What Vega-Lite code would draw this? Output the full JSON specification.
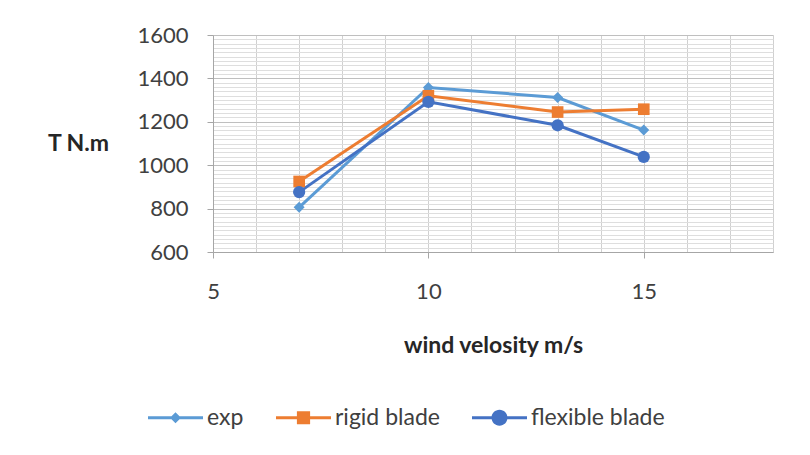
{
  "$schema": "https://vega.github.io/schema/vega-lite/v6.json",
  "width": 560,
  "height": 217,
  "autosize": {"type": "none"},
  "padding": {"left": 213, "top": 35, "right": 37, "bottom": 203},
  "background": "white",
  "config": {"view": {"stroke": null}, "font": "Lato"},
  "data": {
    "values": [
      {"s": "exp", "v": 7, "T": 806},
      {"s": "exp", "v": 10, "T": 1358},
      {"s": "exp", "v": 13, "T": 1312},
      {"s": "exp", "v": 15, "T": 1162},
      {"s": "rigid blade", "v": 7, "T": 925},
      {"s": "rigid blade", "v": 10, "T": 1320},
      {"s": "rigid blade", "v": 13, "T": 1245},
      {"s": "rigid blade", "v": 15, "T": 1258},
      {"s": "flexible blade", "v": 7, "T": 876},
      {"s": "flexible blade", "v": 10, "T": 1292},
      {"s": "flexible blade", "v": 13, "T": 1184},
      {"s": "flexible blade", "v": 15, "T": 1038}
    ]
  },
  "encoding": {
    "x": {
      "field": "v",
      "type": "quantitative",
      "scale": {"domain": [5, 18], "nice": false, "zero": false},
      "axis": {
        "values": [5, 6, 7, 8, 9, 10, 11, 12, 13, 14, 15, 16, 17, 18],
        "labelExpr": "datum.value % 5 === 0 ? datum.label : ''",
        "labelFont": "Lato",
        "labelFontSize": 22,
        "labelColor": "#404040",
        "labelPadding": 23,
        "labelOverlap": false,
        "labelFlush": false,
        "tickSize": 6,
        "tickColor": "#a6a6a6",
        "tickOpacity": {"condition": {"test": "datum.value % 5 === 0", "value": 1}, "value": 0},
        "domainColor": "#a6a6a6",
        "gridColor": "#d0d0d0",
        "title": "wind velosity m/s",
        "titleFont": "Lato",
        "titleFontSize": 23,
        "titleFontWeight": "bold",
        "titleColor": "#262626",
        "titleY": 93,
        "titleBaseline": "middle"
      }
    },
    "y": {
      "field": "T",
      "type": "quantitative",
      "scale": {"domain": [600, 1600], "nice": false, "zero": false},
      "axis": {
        "values": [600, 620, 640, 660, 680, 700, 720, 740, 760, 780, 800, 820, 840, 860, 880, 900, 920, 940, 960, 980, 1000, 1020, 1040, 1060, 1080, 1100, 1120, 1140, 1160, 1180, 1200, 1220, 1240, 1260, 1280, 1300, 1320, 1340, 1360, 1380, 1400, 1420, 1440, 1460, 1480, 1500, 1520, 1540, 1560, 1580, 1600],
        "format": "d",
        "labelExpr": "datum.value % 200 === 0 ? datum.label : ''",
        "labelFont": "Lato",
        "labelFontSize": 22,
        "labelColor": "#404040",
        "labelPadding": 19,
        "labelOverlap": false,
        "labelFlush": false,
        "tickSize": 6,
        "tickColor": "#a6a6a6",
        "tickOpacity": {"condition": {"test": "datum.value % 200 === 0", "value": 1}, "value": 0},
        "domainColor": "#a6a6a6",
        "gridColor": {"condition": {"test": "datum.value % 200 === 0", "value": "#bfbfbf"}, "value": "#dedede"},
        "title": "T N.m",
        "titleFont": "Lato",
        "titleFontSize": 23,
        "titleFontWeight": "bold",
        "titleColor": "#262626",
        "titleAngle": 0,
        "titleX": -135,
        "titleY": 108,
        "titleAlign": "center",
        "titleBaseline": "middle"
      }
    }
  },
  "layer": [
    {
      "mark": {"type": "line", "strokeWidth": 3},
      "encoding": {
        "color": {
          "field": "s",
          "type": "nominal",
          "scale": {"domain": ["exp", "rigid blade", "flexible blade"], "range": ["#5B9BD5", "#ED7D31", "#4472C4"]},
          "legend": null
        },
        "order": {"field": "v", "type": "quantitative"}
      }
    },
    {
      "mark": {"type": "point", "filled": true, "opacity": 1},
      "encoding": {
        "color": {
          "field": "s",
          "type": "nominal",
          "scale": {"domain": ["exp", "rigid blade", "flexible blade"], "range": ["#5B9BD5", "#ED7D31", "#4472C4"]},
          "legend": null
        },
        "shape": {
          "field": "s",
          "type": "nominal",
          "scale": {"domain": ["exp", "rigid blade", "flexible blade"], "range": ["diamond", "square", "circle"]},
          "legend": null
        },
        "size": {
          "field": "s",
          "type": "nominal",
          "scale": {"domain": ["exp", "rigid blade", "flexible blade"], "range": [121, 150, 290]},
          "legend": null
        }
      }
    },
    {
      "transform": [{"filter": "datum.v > 1000"}],
      "mark": {"type": "point", "filled": true},
      "encoding": {
        "color": {
          "field": "s",
          "type": "nominal",
          "scale": {"domain": ["exp", "rigid blade", "flexible blade"], "range": ["#5B9BD5", "#ED7D31", "#4472C4"]},
          "legend": {
            "orient": "none",
            "legendX": -65,
            "legendY": 355,
            "direction": "horizontal",
            "title": null,
            "symbolSize": 3025,
            "symbolStrokeWidth": 0,
            "symbolOpacity": 1,
            "labelFont": "Lato",
            "labelFontSize": 23,
            "labelColor": "#404040",
            "labelOffset": 4,
            "columnPadding": 32
          }
        },
        "shape": {
          "field": "s",
          "type": "nominal",
          "scale": {
            "domain": ["exp", "rigid blade", "flexible blade"],
            "range": [
              "M-1,-0.055H1V0.055H-1Z M0,-0.2L0.2,0L0,0.2L-0.2,0Z",
              "M-1,-0.055H1V0.055H-1Z M-0.24,-0.24H0.24V0.24H-0.24Z",
              "M-1,-0.055H1V0.055H-1Z M-0.29,0A0.29,0.29 0 1,1 0.29,0A0.29,0.29 0 1,1 -0.29,0Z"
            ]
          },
          "legend": {
            "orient": "none",
            "legendX": -65,
            "legendY": 355,
            "direction": "horizontal",
            "title": null,
            "symbolSize": 3025,
            "symbolStrokeWidth": 0,
            "symbolOpacity": 1,
            "labelFont": "Lato",
            "labelFontSize": 23,
            "labelColor": "#404040",
            "labelOffset": 4,
            "columnPadding": 32
          }
        }
      }
    }
  ],
  "resolve": {
    "scale": {"color": "independent", "shape": "independent", "size": "independent"},
    "legend": {"color": "independent", "shape": "independent"}
  }
}
